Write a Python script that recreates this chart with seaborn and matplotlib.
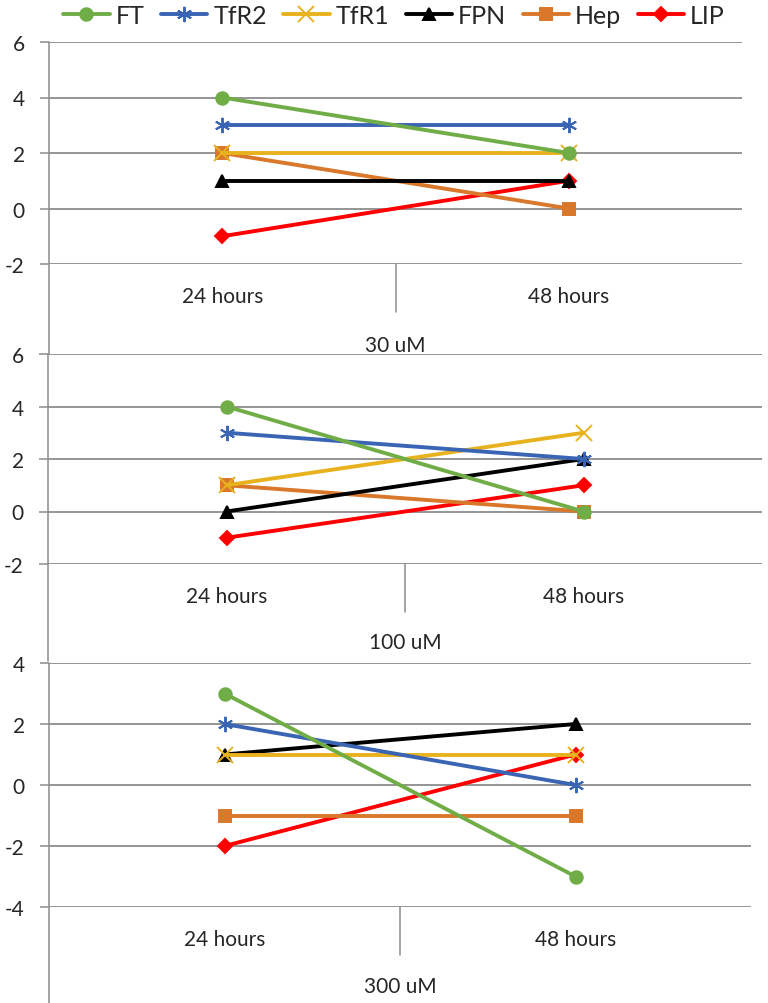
import matplotlib
matplotlib.use('Agg')
import matplotlib.pyplot as plt
from matplotlib.lines import Line2D
import pandas as pd
import seaborn as sns

# data
times = ['24 hours', '48 hours']
genes = ['FT', 'TfR2', 'TfR1', 'FPN', 'Hep', 'LIP']
doses = ['30 uM', '100 uM', '300 uM']

h24_30 = [4, 3, 2, 1, 2, -1]
h48_30 = [2, 3, 2, 1, 0, 1]
h24_100 = [4, 3, 1, 0, 1, -1]
h48_100 = [0, 2, 3, 2, 0, 1]
h24_300 = [3, 2, 1, 1, -1, -2]
h48_300 = [-3, 0, 1, 2, -1, 1]

colores = {'FT': '#70AD47', 'TfR2': '#3A64B4', 'TfR1': '#E8B21E',
           'FPN': '#000000', 'Hep': '#D9772B', 'LIP': '#FF0000'}
marcas = {'FT': 'o', 'TfR2': (6, 2, 0), 'TfR1': 'x',
          'FPN': '^', 'Hep': 's', 'LIP': 'D'}
tamanos = {'FT': 9, 'TfR2': 11, 'TfR1': 11, 'FPN': 9, 'Hep': 9, 'LIP': 7}

sns.set_style('white')
plt.rcParams['font.family'] = ['Lato', 'DejaVu Sans']
plt.rcParams['axes.unicode_minus'] = False

W, H = 768, 1004
fig = plt.figure(figsize=(W / 100, H / 100), dpi=100)

# panel boxes in pixels: left, right, top, bottom, ylim, spine end, label y
paneles = [
    (49, 742, 43, 265, (-2, 6), 355, 346, h24_30, h48_30),
    (48, 762, 355, 565, (-2, 6), 662, 643, h24_100, h48_100),
    (49, 751, 664, 908, (-4, 4), 1004, 987, h24_300, h48_300),
]
gris = '#8C8C8C'

for (izq, der, arr, aba, lims, fin_eje, y_dosis, v24, v48), dosis in zip(paneles, doses):
    ax = fig.add_axes([izq / W, 1 - aba / H, (der - izq) / W, (aba - arr) / H])
    df = pd.DataFrame({
        'time': times * len(genes),
        'value': [v for par in zip(v24, v48) for v in par],
        'gene': [g for g in genes for _ in times],
    })
    # draw last series first so the early ones sit on top (like the original)
    for i, g in reversed(list(enumerate(genes))):
        sub = df[df['gene'] == g]
        sns.lineplot(data=sub, x='time', y='value', ax=ax, color=colores[g],
                     marker=marcas[g], markersize=tamanos[g], lw=2.8,
                     markeredgecolor=colores[g], markeredgewidth=1.4,
                     clip_on=False, zorder=3 + (len(genes) - i))
    ax.set_xlim(-0.5, 1.5)
    ax.set_ylim(*lims)
    ax.set_yticks(range(lims[0], lims[1] + 1, 2))
    ax.set_xlabel('')
    ax.set_ylabel('')
    for s in ax.spines.values():
        s.set_visible(False)
    ax.grid(axis='y', color=gris, lw=1.3)
    ax.grid(axis='x', visible=False)
    ax.tick_params(axis='y', direction='out', length=6.5, width=1.1,
                   color=gris, pad=11, labelsize=15, left=True)
    ax.tick_params(axis='x', length=0, pad=16, labelsize=15)
    # divider between the two categories
    alto = aba - arr
    ax.plot([0.5, 0.5], [0, -48 / alto], color=gris, lw=1.1,
            transform=ax.get_xaxis_transform(), clip_on=False)
    # vertical axis line running down past the labels
    fig.add_artist(Line2D([izq / W, izq / W], [1 - arr / H, 1 - fin_eje / H],
                          color=gris, lw=1.1, transform=fig.transFigure))
    fig.text((izq + der) / 2 / W, 1 - y_dosis / H, dosis, ha='center',
             va='center', fontsize=15)

manejadores = [Line2D([], [], color=colores[g], marker=marcas[g], lw=2.8,
                      markersize=tamanos[g], markeredgecolor=colores[g],
                      markeredgewidth=1.4, label=g) for g in genes]
fig.legend(handles=manejadores, loc='center', ncol=6, frameon=False,
           bbox_to_anchor=(394 / W, 1 - 16 / H), fontsize=18,
           handlelength=1.85, handletextpad=0.25, columnspacing=0.65)

fig.savefig('out.png', dpi=100)
